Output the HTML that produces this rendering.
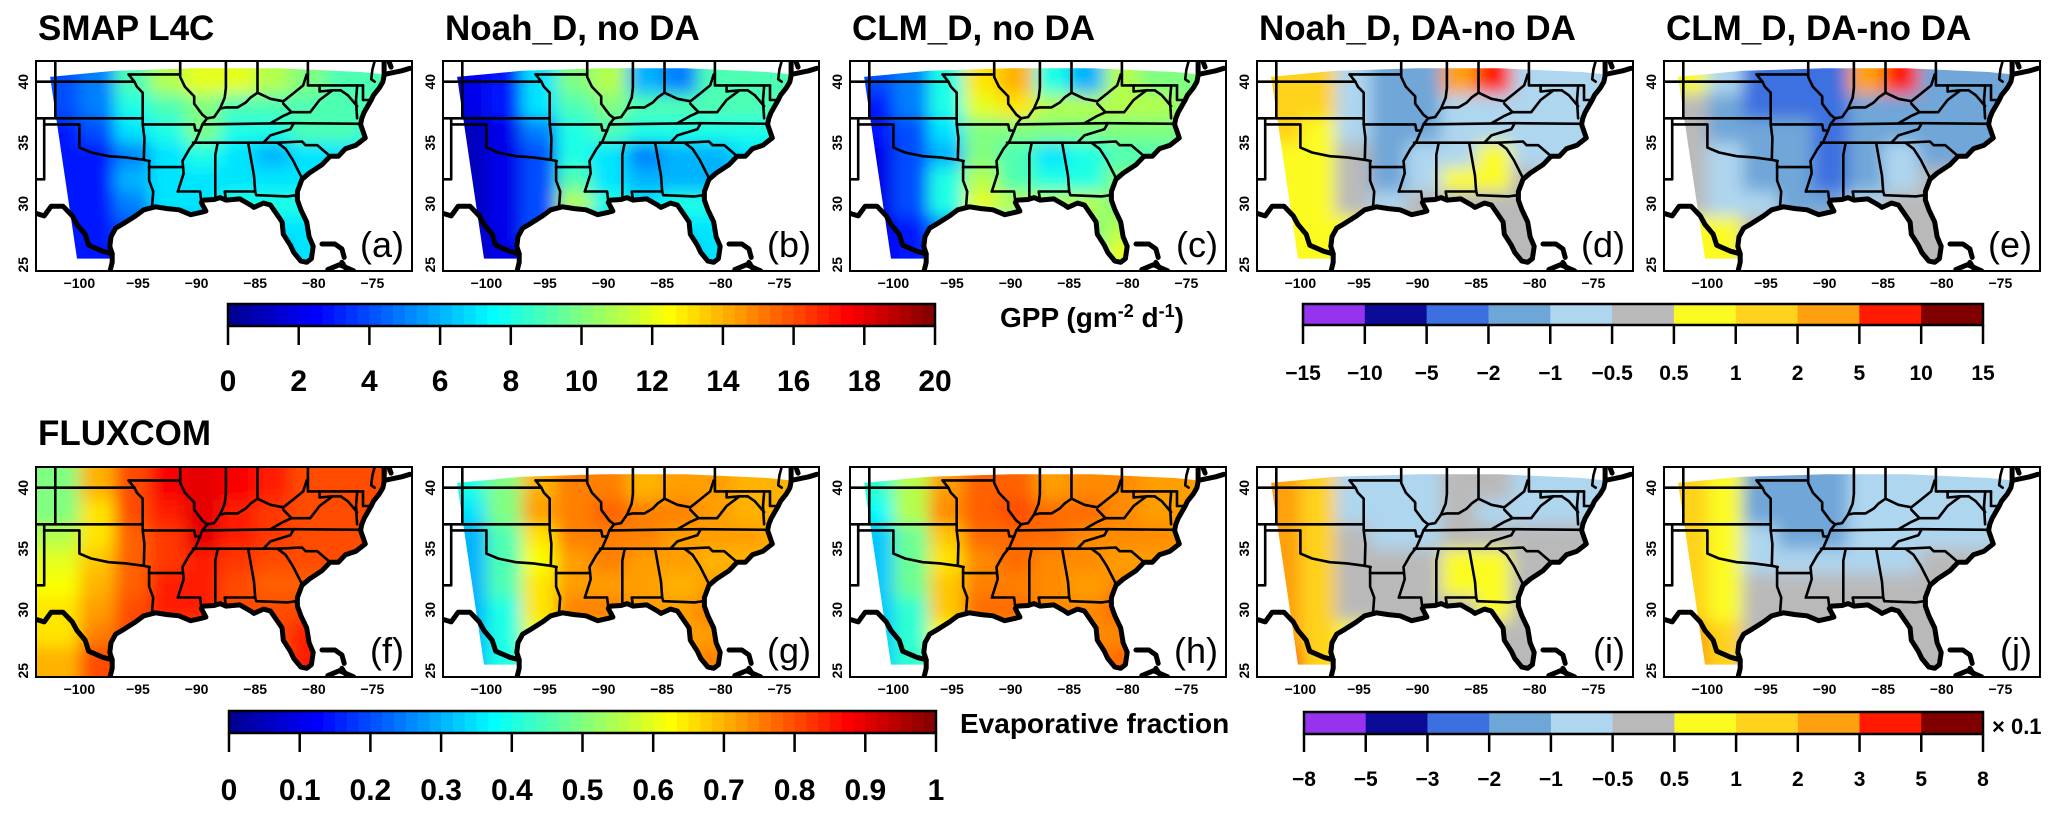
<!DOCTYPE html>
<html><head><meta charset="utf-8">
<style>
html,body{margin:0;padding:0;background:#fff;}
svg{display:block;font-family:"Liberation Sans",Arial,sans-serif;}
</style></head>
<body>
<svg id="fig" width="2067" height="817" viewBox="0 0 2067 817" xmlns="http://www.w3.org/2000/svg">
<defs>
<filter id="blur" x="-5%" y="-5%" width="110%" height="110%"><feGaussianBlur stdDeviation="8"/></filter>
</defs>
</svg>
<script>
// ---- data arrays ----
const lonCenters=[-101.5,-98.5,-95.5,-92.5,-89.5,-86.5,-83.5,-80.5,-77.5,-74.5];
const latCenters=[40,38,36,34,32,30,28,26];
const gppSmap=[[4,5,9,11,12,12,11,10,9,9],[4,5,8,9,10,9,9,9,9,9],[3,4,7,8,10,8,8,9,9,8],[3,3,5,7,8,7,6,7,7,7],[3,3,6,7,7,7,7,7,7,7],[3,3,5,7,7,8,8,8,7,7],[3,3,4,6,6,6,7,7,7,7],[3,3,3,5,5,5,6,7,7,7]];
const gppNoah=[[2,3,7,10,11,6,5,9,9,9],[2,3,7,9,10,9,9,9,9,9],[1,2,5,8,9,8,8,8,8,8],[1,2,4,8,7,5,6,6,7,7],[1,2,4,9,7,6,6,6,7,7],[1,2,4,11,8,7,8,8,7,7],[1,2,4,6,6,6,7,7,7,7],[1,2,3,5,5,5,6,7,7,7]];
const gppClm=[[4,5,8,13,14,8,6,11,10,10],[3,5,8,12,13,11,11,11,11,10],[3,4,7,10,10,10,10,10,10,10],[2,4,6,10,9,7,8,9,9,9],[2,4,8,11,9,8,8,10,10,10],[2,4,8,12,11,11,11,10,10,10],[2,3,5,8,8,9,10,11,10,10],[2,3,4,7,7,7,9,12,10,10]];
const gppNoahDiff=[[1,1,-0.7,-1.5,-1.5,3,6,-0.7,-0.7,-0.7],[1,1,-0.7,-1.5,-1.5,-0.7,-0.7,-0.7,-0.7,-0.7],[1,0.8,-0.7,-1.5,-1.5,-0.7,-0.7,-0.7,-0.7,-0.7],[0.8,0.7,0,-1.5,-0.7,-0.7,0.7,-0.7,-0.7,-0.7],[0.8,0.7,0.3,-1.5,-0.7,0.7,0.8,0,0,0],[0.8,0.6,0.3,-0.7,0,0,0,0,0,0],[0.8,0.8,0.6,0,0,0,0,0,0,0],[0.8,0.8,0.6,0,0,0,0,0,0,0]];
const gppClmDiff=[[0.6,-1,-3,-3,-3,3,6,-2,-2,-2],[0.3,-1.5,-3,-3,-3,-2,-2,-2,-2,-2],[0.3,-1.5,-2,-2,-2.5,-2,-2,-2,-2,-2],[0,-1,-2,-2,-2.5,-2,-1,-2,-2,-2],[0,-1,-1.5,-2,-2.5,-1.5,-1,0,0,0],[0.3,-1,-1,-1.5,-2,-1,0,0,0,0],[0.6,0.6,0,0,0,0,0,0,0,0],[0.6,0.6,0,0,0,0,0,0,0,0]];
const efFluxcom=[[0.5,0.7,0.8,0.88,0.9,0.88,0.85,0.8,0.8,0.8],[0.5,0.65,0.8,0.85,0.9,0.85,0.82,0.8,0.8,0.8],[0.55,0.65,0.78,0.82,0.9,0.85,0.82,0.8,0.8,0.8],[0.6,0.68,0.78,0.82,0.85,0.82,0.8,0.8,0.8,0.8],[0.62,0.7,0.78,0.85,0.85,0.8,0.78,0.78,0.8,0.8],[0.65,0.72,0.8,0.85,0.85,0.8,0.8,0.8,0.8,0.8],[0.65,0.75,0.8,0.8,0.8,0.8,0.8,0.85,0.8,0.8],[0.7,0.8,0.8,0.8,0.8,0.8,0.8,0.85,0.8,0.8]];
const efNoah=[[0.4,0.5,0.7,0.75,0.75,0.7,0.72,0.72,0.7,0.7],[0.35,0.5,0.72,0.75,0.78,0.75,0.75,0.72,0.7,0.7],[0.3,0.45,0.65,0.75,0.75,0.75,0.72,0.72,0.72,0.7],[0.3,0.45,0.62,0.72,0.75,0.72,0.72,0.7,0.7,0.7],[0.3,0.45,0.65,0.72,0.72,0.72,0.7,0.72,0.72,0.7],[0.3,0.4,0.65,0.75,0.75,0.72,0.72,0.75,0.7,0.7],[0.3,0.4,0.6,0.7,0.7,0.7,0.72,0.72,0.7,0.7],[0.3,0.4,0.5,0.7,0.7,0.7,0.72,0.75,0.7,0.7]];
const efClm=[[0.42,0.55,0.72,0.78,0.78,0.72,0.74,0.74,0.72,0.72],[0.38,0.55,0.74,0.78,0.8,0.77,0.77,0.74,0.72,0.72],[0.32,0.48,0.68,0.77,0.77,0.77,0.74,0.74,0.74,0.72],[0.32,0.48,0.65,0.74,0.77,0.74,0.74,0.72,0.72,0.72],[0.32,0.48,0.68,0.75,0.75,0.74,0.72,0.74,0.74,0.72],[0.32,0.42,0.68,0.77,0.77,0.74,0.74,0.77,0.72,0.72],[0.32,0.42,0.62,0.72,0.72,0.72,0.74,0.74,0.72,0.72],[0.32,0.42,0.52,0.72,0.72,0.72,0.74,0.77,0.72,0.72]];
const efNoahDiff=[[2,1.5,-0.7,-0.7,-0.7,-0.3,-0.3,-0.7,-0.7,-0.7],[2,1,-0.7,-0.7,-0.7,-0.3,-0.7,-0.7,-0.7,-0.7],[2,1,0,-0.7,-0.7,-0.3,-0.3,-0.3,-0.3,-0.3],[2,1,0,0,0,0.6,0.6,0,0,0],[2,1,0,0,0,0.6,0.8,0,0,0],[2,1,0,0,0,0,0.6,0,0,0],[2.5,1.5,0.6,0,0,0,0,0,0,0],[3.5,1.5,0.6,0,0,0,0,0,0,0]];
const efClmDiff=[[1.5,0.8,-1.5,-2,-1.5,-1,-1,-1,-1,-1],[1.5,0.8,-1.5,-1.5,-1.5,-1,-1,-1,-1,-1],[1.5,0.6,-1,-1.5,-1.5,-1,-1,-0.7,-0.7,-0.7],[1.5,0.6,-0.7,-0.7,-0.7,-0.7,-0.7,-0.3,0,0],[1.5,0.6,0,0,0,0,0,0,0,0],[1.5,0.6,0,0,0,0,0,0,0,0],[2,1,0.3,0,0,0,0,0,0,0],[2.5,1,0.3,0,0,0,0,0,0,0]];
const gppTicks=[0,2,4,6,8,10,12,14,16,18,20];
const efTicks=["0","0.1","0.2","0.3","0.4","0.5","0.6","0.7","0.8","0.9","1"];
const gppDiffBreaks=[-15,-10,-5,-2,-1,-0.5,0.5,1,2,5,10,15];
const efDiffBreaks=[-8,-5,-3,-2,-1,-0.5,0.5,1,2,3,5,8];
const divColors=["#9533ee","#0b0b98","#3c6fe0","#6fa6d8","#aed6ef","#b9b9b9","#fbfb22","#ffd21e","#ffa010","#ff1a00","#800000"];
const lonTicks=[-100,-95,-90,-85,-80,-75];
const latTicks=[25,30,35,40];

// ---- geometry ----
const NS="http://www.w3.org/2000/svg";
const svg=document.getElementById('fig');
const defs=svg.querySelector('defs');
const PW=376,PH=210,LON0=-103.7,LAT0=41.7,KX=11.72,KY=12.2;
function mk(tag,attrs,parent){const e=document.createElementNS(NS,tag);for(const k in attrs)e.setAttribute(k,attrs[k]);(parent||svg).appendChild(e);return e;}
function jet(t){t=Math.max(0,Math.min(1,t));const st=[[0,[0,0,143]],[0.125,[0,0,255]],[0.375,[0,255,255]],[0.625,[255,255,0]],[0.875,[255,0,0]],[1,[128,0,0]]];
 for(let i=1;i<st.length;i++){if(t<=st[i][0]){const a=st[i-1],b=st[i],f=(t-a[0])/(b[0]-a[0]);return 'rgb('+a[1].map((v,j)=>Math.round(v+(b[1][j]-v)*f)).join(',')+')';}}return 'rgb(128,0,0)';}
function divColor(v,br){for(let i=0;i<br.length-1;i++){if(v<br[i+1])return divColors[i];}return divColors[divColors.length-1];}

const coast=[[-74,40.5],[-74.1,40],[-74.4,39.5],[-74.9,38.9],[-75.1,38.5],[-75.4,38],[-75.7,37.5],[-75.9,37],[-76,36.5],[-75.6,35.4],[-76.4,34.8],[-77.3,34.5],[-77.9,33.9],[-78.6,33.9],[-79.3,33.2],[-80.4,32.5],[-81,32],[-81.4,31],[-81.4,30.3],[-81.1,29.5],[-80.6,28.5],[-80.4,27.3],[-80.05,26.5],[-80.2,25.5],[-80.6,25.2],[-81.1,25.3],[-81.7,26],[-82,26.6],[-82.6,27.5],[-82.7,28.5],[-83.2,29.2],[-83.7,29.9],[-84.3,30.05],[-85.1,29.7],[-85.4,29.9],[-86.3,30.4],[-87.5,30.3],[-88,30.5],[-88.5,30.35],[-89.4,30.3],[-89.6,30.1],[-89.2,29.4],[-89.6,29.3],[-90.5,29.1],[-91.5,29.5],[-92.5,29.6],[-93.5,29.75],[-94.5,29.5],[-95.2,29],[-96.2,28.4],[-96.9,28],[-97.3,27.3],[-97.4,26.5],[-97.2,25.9],[-97.2,25.2],[-97.4,24.4]];
const modelDomain=[[-102.5,40.4],[-97,40.9],[-90,41.1],[-83,41.1],[-76,40.8],[-74,40.6]].concat(coast.slice(0,coast.length-2)).concat([[-97.3,25.5],[-100.2,25.5]]);
const fluxDomain=[[-104,42],[-73.6,42],[-73.8,40.8]].concat(coast).concat([[-97.4,24],[-104,24]]);
const rioGrande=[[-104,29.3],[-103,29],[-102.4,29.8],[-101.4,29.8],[-100.6,29],[-100.2,28.3],[-99.5,27.5],[-99.2,26.6],[-98,26.1],[-97.2,25.9]];
const islands=[[[-79.3,26.7],[-78.2,26.7],[-77.6,26.3],[-77.4,25.6]],[[-78.8,24.6],[-77.8,25],[-76.6,24.5]],[[-77.6,25.2],[-77.2,24.6]]];
const extraCoast=[[[-74,41.7],[-74,40.6],[-72.5,40.9],[-71.8,41.1]],[[-73.6,41.7],[-73.4,41.2]]];
const borders=[
 [[-102.05,41.7],[-102.05,37]],[[-103.7,37],[-94.6,37]],[[-103.7,40],[-95.3,40]],[[-103,37],[-103,32],[-103.7,32]],
 [[-103,36.5],[-100,36.5],[-100,34.6],[-99,34.2],[-97.5,33.9],[-96,33.8],[-94.5,33.6],[-94,33.5]],
 [[-94.6,37],[-94.6,36.5],[-94.45,35.4],[-94.5,33.6]],[[-94.05,33.5],[-94.05,33],[-94.05,31.9],[-93.7,31],[-93.8,29.7]],
 [[-94.05,33],[-91.2,33]],[[-94.6,36.5],[-90.2,36.5],[-90.1,36],[-89.7,36]],
 [[-94.6,37],[-94.6,39.1],[-95.1,39.6],[-95.3,40],[-95.8,40.6]],[[-95.8,40.6],[-91.4,40.6]],
 [[-91.4,41.7],[-91.4,40.4],[-91,39.6],[-90.2,38.8],[-90.2,38.2],[-89.5,37.3],[-89.1,37],[-89.5,36.5],[-89.7,36],[-90.1,35.1],[-90.6,34.5],[-91.2,33.5],[-91.1,32.5],[-91.4,31.6],[-91.6,31]],
 [[-91.6,31],[-89.7,31],[-89.6,30.2]],[[-90.3,35],[-88.2,35],[-88.4,34],[-88.4,31.9],[-88.4,30.4]],
 [[-88.2,35],[-84.3,35],[-83.1,35]],[[-85.6,35],[-85.1,32.3],[-85,31],[-87.6,31],[-87.5,30.4]],
 [[-85,31],[-84.9,30.7],[-82.2,30.6],[-81.5,30.7]],[[-83.1,35],[-82.4,34.5],[-81.8,33.6],[-81,32.1]],
 [[-83.1,35],[-81,35.1],[-80.7,34.8],[-79.7,34.8],[-78.6,33.9]],[[-89.5,36.5],[-81.7,36.6],[-75.9,36.55]],
 [[-84.3,35],[-83.7,35.6],[-82,36.1],[-81.7,36.6]],
 [[-89.1,37],[-88.5,37.1],[-88,37.8],[-87.5,37.9],[-86.5,37.9],[-85.8,38.3],[-85.4,38.7],[-84.8,39.1],[-83.7,38.6],[-82.6,38.4],[-81.8,39],[-80.9,39.7],[-80.6,40.6]],
 [[-83.7,36.6],[-82.6,37.2],[-81.9,37.5],[-82.6,38.2]],[[-81.9,37.5],[-80.3,37.5],[-79.5,38.5],[-78.4,39.3],[-77.7,39.3]],
 [[-77.7,39.3],[-77.1,38.9],[-76.3,38]],[[-87.5,41.7],[-87.5,39.5],[-87.6,38.7],[-88,37.8]],
 [[-84.8,41.7],[-84.8,39.1]],[[-80.5,41.7],[-80.5,40.6]],[[-80.5,40.6],[-80.5,39.7],[-75.8,39.7]],
 [[-75.8,39.7],[-75.8,38.5],[-75.1,38.5]],[[-79.5,39.7],[-79.5,39.2],[-78.4,39.3]],
 [[-76.3,39.6],[-76.4,38.5],[-76.3,37]],[[-74.8,41.7],[-75,41],[-75.1,40.2],[-74.8,40]]
];

const panels=[
 {id:'a',title:'SMAP L4C',col:0,row:0,data:gppSmap,type:'gpp',domain:modelDomain},
 {id:'b',title:'Noah_D, no DA',col:1,row:0,data:gppNoah,type:'gpp',domain:modelDomain},
 {id:'c',title:'CLM_D, no DA',col:2,row:0,data:gppClm,type:'gpp',domain:modelDomain},
 {id:'d',title:'Noah_D, DA-no DA',col:3,row:0,data:gppNoahDiff,type:'gppdiff',domain:modelDomain},
 {id:'e',title:'CLM_D, DA-no DA',col:4,row:0,data:gppClmDiff,type:'gppdiff',domain:modelDomain},
 {id:'f',title:'FLUXCOM',col:0,row:1,data:efFluxcom,type:'ef',domain:fluxDomain},
 {id:'g',title:'',col:1,row:1,data:efNoah,type:'ef',domain:modelDomain},
 {id:'h',title:'',col:2,row:1,data:efClm,type:'ef',domain:modelDomain},
 {id:'i',title:'',col:3,row:1,data:efNoahDiff,type:'efdiff',domain:modelDomain},
 {id:'j',title:'',col:4,row:1,data:efClmDiff,type:'efdiff',domain:modelDomain}
];
const colLefts=[36,443,850,1257,1664], rowTops=[61,467];

function colorFor(type,v){
 if(type==='gpp')return jet(v/20);
 if(type==='ef')return jet(v);
 if(type==='gppdiff')return divColor(v,gppDiffBreaks);
 return divColor(v,efDiffBreaks);
}

panels.forEach(p=>{
 const L=colLefts[p.col],T=rowTops[p.row];
 const X=lon=>L+(lon-LON0)*KX, Y=lat=>T+(LAT0-lat)*KY;
 const pts=arr=>arr.map(q=>X(q[0]).toFixed(1)+','+Y(q[1]).toFixed(1)).join(' ');
 const g=mk('g',{});
 
 
 if(p.title){const t=mk('text',{x:L+2,y:(p.row?445:40),'font-size':35,'font-weight':'bold',fill:'#000'},g);t.textContent=p.title;
  
  }
 const cp=mk('clipPath',{id:'clip'+p.id},defs);
 const box=mk('clipPath',{id:'box'+p.id},defs);
 mk('rect',{x:L,y:T,width:PW,height:PH},box);
 mk('polygon',{points:pts(p.domain)},cp);
 const outer=mk('g',{'clip-path':'url(#box'+p.id+')'},g);
 const clipped=mk('g',{'clip-path':'url(#clip'+p.id+')'},outer);
 const blurred=mk('g',{filter:'url(#blur)'},clipped);
 p.data.forEach((row,ri)=>row.forEach((v,ci)=>{
  const lc=lonCenters[ci],la=latCenters[ri];
  const lo0=ci===0?-107:lc-1.5, lo1=ci===row.length-1?-69:lc+1.5;
  const la1=ri===0?45:la+1, la0=ri===p.data.length-1?21:la-1;
  const r=mk('rect',{x:X(lo0),y:Y(la1),width:X(lo1)-X(lo0)+0.5,height:Y(la0)-Y(la1)+0.5,fill:colorFor(p.type,v)},blurred);
  
  
 }));
 const lines=mk('g',{fill:'none',stroke:'#000','stroke-linejoin':'round','stroke-linecap':'round'},outer);
 borders.forEach(b=>{const l=mk('polyline',{points:pts(b),'stroke-width':2.6},lines);
  
  });
 [coast,rioGrande].concat(extraCoast).concat(islands).forEach(c=>{const l=mk('polyline',{points:pts(c),'stroke-width':5},lines);
  
  });
 const fr=mk('rect',{x:L,y:T,width:PW,height:PH,fill:'none',stroke:'#000','stroke-width':2},g);
 
 
 lonTicks.forEach(lo=>{const t=mk('text',{x:X(lo),y:T+PH+17,'font-size':14,'font-weight':'bold','text-anchor':'middle'},g);t.textContent=String(lo).replace('-','\u2212');
  
  });
 latTicks.forEach(la=>{const t=mk('text',{x:0,y:0,'font-size':14,'font-weight':'bold','text-anchor':'middle',transform:'translate('+(L-8)+','+Y(la)+') rotate(-90)'},g);t.textContent=la;
  
  });
 const lab=mk('text',{x:L+PW-8,y:T+PH-14,'font-size':36,'text-anchor':'end'},g);lab.textContent='('+p.id+')';
 
 
});

// ---- colorbars ----
function contBar(x0,x1,y0,y1,labels,name,tickY,labFont,labY){
 const g=mk('g',{});
 
 
 const n=60,w=(x1-x0)/n;
 for(let i=0;i<n;i++){const r=mk('rect',{x:x0+i*w,y:y0,width:w+0.6,height:y1-y0,fill:jet((i+0.5)/n)},g);
  
  }
 mk('rect',{x:x0,y:y0,width:x1-x0,height:y1-y0,fill:'none',stroke:'#000','stroke-width':2.5},g);
 labels.forEach((lb,i)=>{const x=x0+(x1-x0)*i/(labels.length-1);
  mk('line',{x1:x,x2:x,y1:y1,y2:tickY,stroke:'#000','stroke-width':2.5},g);
  const t=mk('text',{x:x,y:labY,'font-size':labFont,'font-weight':'bold','text-anchor':'middle'},g);t.textContent=lb;
  
  });
}
function divBar(x0,x1,y0,y1,breaks,name,tickY,labY){
 const g=mk('g',{});
 
 
 const n=breaks.length-1,w=(x1-x0)/n;
 for(let i=0;i<n;i++){const r=mk('rect',{x:x0+i*w,y:y0,width:w+0.5,height:y1-y0,fill:divColors[i]},g);
  
  }
 mk('rect',{x:x0,y:y0,width:x1-x0,height:y1-y0,fill:'none',stroke:'#000','stroke-width':2.5},g);
 breaks.forEach((b,i)=>{const x=x0+w*i;
  mk('line',{x1:x,x2:x,y1:y1,y2:tickY,stroke:'#000','stroke-width':2.5},g);
  const t=mk('text',{x:x,y:labY,'font-size':21,'font-weight':'bold','text-anchor':'middle'},g);t.textContent=String(b).replace('-','\u2212');
  
  });
}
contBar(228,935,304,326,gppTicks.map(String),'gpp-colorbar',345,30,391);
contBar(229,936,711,733,efTicks,'ef-colorbar',752,30,800);
divBar(1303,1983,304,325,gppDiffBreaks,'gpp-diff-colorbar',344,380);
divBar(1304,1983,712,734,efDiffBreaks,'ef-diff-colorbar',752,786);

const gl=mk('text',{x:1000,y:327,'font-size':28,'font-weight':'bold'});


gl.innerHTML='GPP (gm<tspan dy="-10" font-size="18">-2</tspan><tspan dy="10"> d</tspan><tspan dy="-10" font-size="18">-1</tspan><tspan dy="10">)</tspan>';
const el=mk('text',{x:960,y:733,'font-size':28,'font-weight':'bold'});el.textContent='Evaporative fraction';


const sc=mk('text',{x:1992,y:734,'font-size':22,'font-weight':'bold'});sc.textContent='\u00d7 0.1';


</script>
</body></html>
